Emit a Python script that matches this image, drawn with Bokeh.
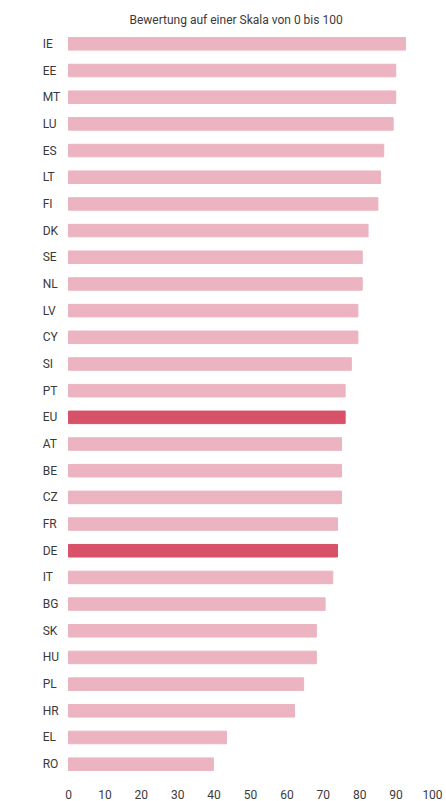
from bokeh.plotting import figure
from bokeh.models import ColumnDataSource, FactorRange, Range1d, FixedTicker
from bokeh.core.properties import value
from bokeh.embed import file_html
from bokeh.resources import INLINE

countries = ["IE", "EE", "MT", "LU", "ES", "LT", "FI", "DK", "SE", "NL", "LV", "CY",
             "SI", "PT", "EU", "AT", "BE", "CZ", "FR", "DE", "IT", "BG", "SK", "HU",
             "PL", "HR", "EL", "RO"]
scores = [92.6, 89.9, 89.9, 89.2, 86.6, 85.7, 85.0, 82.3, 80.7, 80.7, 79.5, 79.5,
          77.7, 76.0, 76.0, 75.0, 75.0, 75.0, 73.9, 73.9, 72.6, 70.5, 68.1, 68.1,
          64.6, 62.1, 43.4, 39.8]
highlight = ["EU", "DE"]
x_ticks = [0, 10, 20, 30, 40, 50, 60, 70, 80, 90, 100]
title_text = "Bewertung auf einer Skala von 0 bis 100"

LIGHT = "#EBB4C0"
DARK = "#D75169"
colors = [DARK if c in highlight else LIGHT for c in countries]

# label column sits left of the bars, in data units of the value axis
LABEL_X = -7.1
X_START = -10.44

src = ColumnDataSource(dict(country=countries, score=scores, color=colors,
                            lx=[LABEL_X] * len(countries)))

p = figure(width=446, height=801,
           y_range=FactorRange(factors=list(reversed(countries))),
           x_range=Range1d(X_START, 100),
           output_backend="svg", toolbar_location=None,
           min_border_left=30, min_border_right=14,
           min_border_top=30, min_border_bottom=23,
           title=title_text)

p.hbar(y="country", left=0, right="score", height=0.47, color="color", source=src)

FONT = "Roboto"
TXT = "#3a3a3a"

p.text(x="lx", y="country", text="country", source=src,
       text_font=value(FONT), text_font_size="12px", text_color=TXT,
       text_align="left", text_baseline="middle")

p.title.text_font = FONT
p.title.text_font_size = "12px"
p.title.text_font_style = "normal"
p.title.text_color = TXT
p.title.align = "left"
p.title.offset = 99
p.title.standoff = 8

p.outline_line_color = None
p.xgrid.grid_line_color = None
p.ygrid.grid_line_color = None
p.yaxis.visible = False

ax = p.xaxis[0]
ax.axis_line_color = None
ax.major_tick_line_color = None
ax.minor_tick_line_color = None
ax.major_label_text_font = FONT
ax.major_label_text_font_size = "12px"
ax.major_label_text_color = TXT
ax.ticker = FixedTicker(ticks=x_ticks)
ax.major_label_standoff = 6

open("out.html", "w").write(file_html(p, INLINE))
